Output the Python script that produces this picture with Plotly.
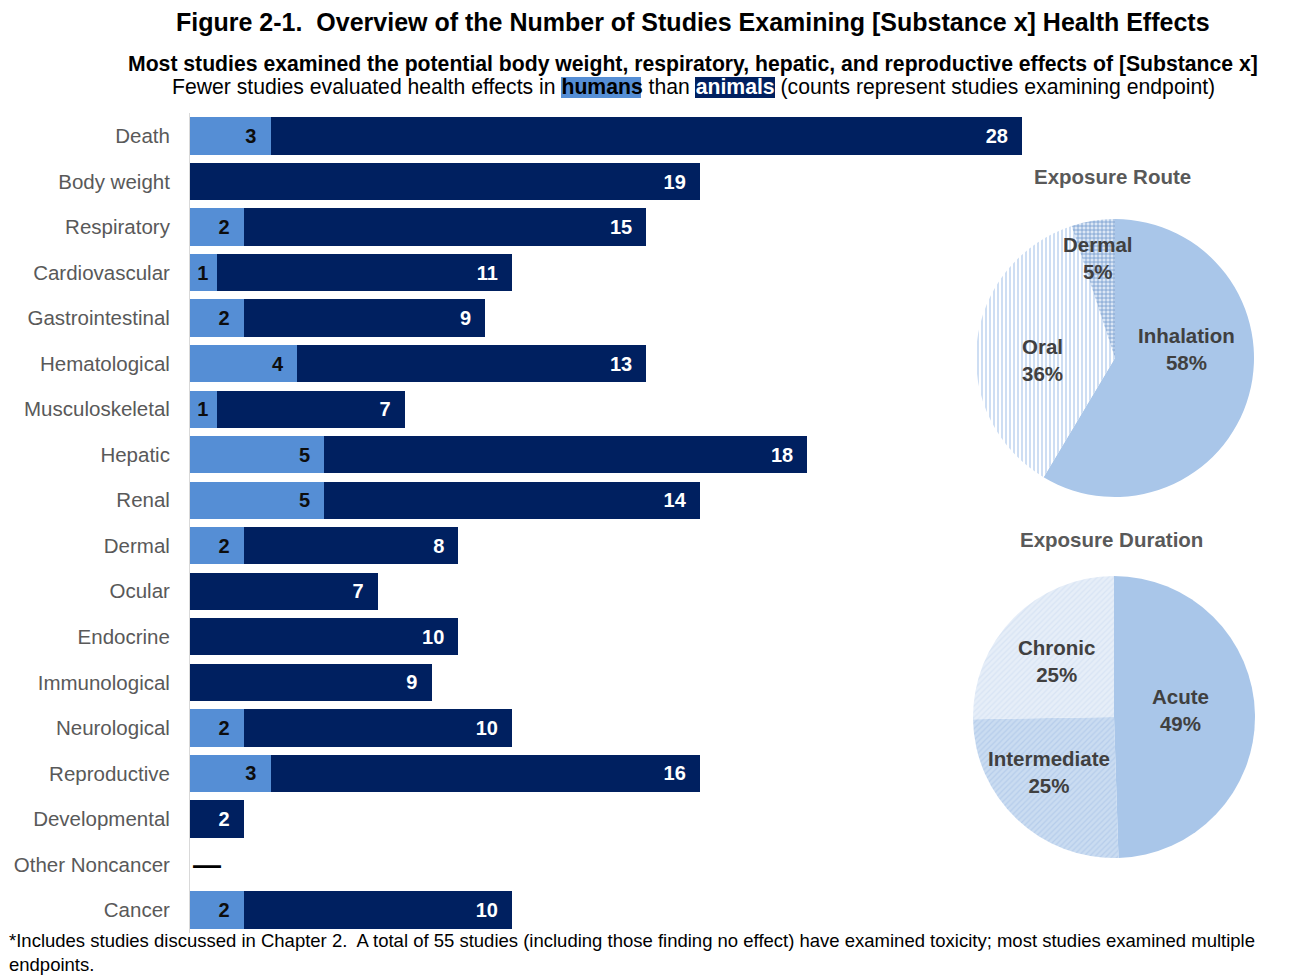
import plotly.graph_objects as go

# ---- data ----
endpoints = ["Death", "Body weight", "Respiratory", "Cardiovascular", "Gastrointestinal",
             "Hematological", "Musculoskeletal", "Hepatic", "Renal", "Dermal", "Ocular",
             "Endocrine", "Immunological", "Neurological", "Reproductive", "Developmental",
             "Other Noncancer", "Cancer"]
human_counts = [3, 0, 2, 1, 2, 4, 1, 5, 5, 2, 0, 0, 0, 2, 3, 0, 0, 2]
animal_counts = [28, 19, 15, 11, 9, 13, 7, 18, 14, 8, 7, 10, 9, 10, 16, 2, 0, 10]

route_labels = ["Inhalation", "Oral", "Dermal"]
route_pct = [58, 36, 5]

duration_labels = ["Acute", "Intermediate", "Chronic"]
duration_pct = [49, 25, 25]

total_studies = 55

# ---- style ----
W, H = 1297, 975
HUMAN = "#558ED5"
ANIMAL = "#002060"
FONT = "Liberation Sans, Arial, sans-serif"
NBSP = "\u00a0"


def px(x):
    return x / W


def py(y):
    return 1 - y / H


def bar_text(vals):
    # right-aligned count inside each segment, padded a little from the end
    return [f"<b>{v}</b>" + NBSP * (2 if v > 1 else 1) if v > 0 else "" for v in vals]


fig = go.Figure()

fig.add_trace(go.Bar(
    y=endpoints, x=human_counts, orientation="h", name="Humans",
    marker=dict(color=HUMAN, line=dict(width=0)),
    text=bar_text(human_counts), textposition="inside", insidetextanchor="end",
    textfont=dict(family=FONT, size=20, color="#0d0d0d"),
    cliponaxis=False, hoverinfo="x+y",
))
fig.add_trace(go.Bar(
    y=endpoints, x=animal_counts, orientation="h", name="Animals",
    marker=dict(color=ANIMAL, line=dict(width=0)),
    text=bar_text(animal_counts), textposition="inside", insidetextanchor="end",
    textfont=dict(family=FONT, size=20, color="white"),
    cliponaxis=False, hoverinfo="x+y",
))

# endpoints with no studies get a dash
annotations = []
for name, h, a in zip(endpoints, human_counts, animal_counts):
    if h + a == 0:
        annotations.append(dict(x=0, y=name, xref="x", yref="y", text="<b>—</b>",
                                showarrow=False, xanchor="left", yanchor="middle", xshift=1,
                                font=dict(family=FONT, size=28, color="black")))

# pies
pie_line = dict(color="rgba(0,0,0,0)", width=0)
fig.add_trace(go.Pie(
    labels=route_labels, values=route_pct, sort=False, direction="clockwise",
    domain=dict(x=[px(976), px(1254)], y=[py(497), py(219)]),
    marker=dict(colors=["#A9C6E9", "#FFFFFF", "#FFFFFF"], line=pie_line,
                pattern=dict(shape=["", "|", "+"],
                             fgcolor=["#A9C6E9", "#B9D0EE", "#6E98CC"],
                             bgcolor=["#A9C6E9", "#FFFFFF", "#DCE7F5"],
                             size=[6, 4, 4], solidity=[0.2, 0.35, 0.35])),
    textinfo="none", showlegend=False, hoverinfo="label+value",
))
fig.add_trace(go.Pie(
    labels=duration_labels, values=duration_pct, sort=False, direction="clockwise",
    domain=dict(x=[px(973), px(1255)], y=[py(858), py(576)]),
    marker=dict(colors=["#A9C6E9", "#C6D8EF", "#E2EBF7"], line=pie_line,
                pattern=dict(shape=["", "/", "/"],
                             fgcolor=["#A9C6E9", "#B6CDEB", "#D8E4F4"],
                             bgcolor=["#A9C6E9", "#CADCF1", "#E6EEF8"],
                             size=[6, 4, 4], solidity=[0.2, 0.3, 0.3])),
    textinfo="none", showlegend=False, hoverinfo="label+value",
))


def centered(x, y, text, font, xanchor="center"):
    return dict(x=px(x), y=py(y), xref="paper", yref="paper", text=text,
                showarrow=False, xanchor=xanchor, yanchor="middle", font=font)


# pie slice labels
label_font = dict(family=FONT, size=20.5, color="#404040")
route_pos = {"Inhalation": (1186, 349), "Oral": (1042, 360), "Dermal": (1098, 258)}
duration_pos = {"Acute": (1180, 710), "Intermediate": (1049, 772), "Chronic": (1056, 661)}
for lab, val in zip(route_labels, route_pct):
    x, y = route_pos[lab]
    annotations.append(centered(x, y, f"<b>{lab}<br>{val}%</b>", label_font))
for lab, val in zip(duration_labels, duration_pct):
    x, y = duration_pos[lab]
    annotations.append(centered(x, y, f"<b>{lab}<br>{val}%</b>", label_font))

# pie titles
for txt, (x, y) in [("Exposure Route", (1112, 176)), ("Exposure Duration", (1111, 539))]:
    annotations.append(centered(x, y, f"<b>{txt}</b>",
                                dict(family=FONT, size=20.5, color="#595959")))

# titles
annotations.append(centered(
    693, 22,
    "<b>Figure 2-1.  Overview of the Number of Studies Examining [Substance x] Health Effects</b>",
    dict(family=FONT, size=25, color="black")))
annotations.append(centered(
    693, 64,
    "<b>Most studies examined the potential body weight, respiratory, hepatic, "
    "and reproductive effects of [Substance x]</b>",
    dict(family=FONT, size=21.2, color="black")))
annotations.append(centered(
    693, 87,
    "Fewer studies evaluated health effects in <b>humans</b> than "
    "<b><span style='color:white'>animals</span></b> "
    "(counts represent studies examining endpoint)",
    dict(family=FONT, size=21.2, color="black")))

# footnote
annotations.append(dict(
    x=px(8), y=py(976), xref="paper", yref="paper", showarrow=False,
    xanchor="left", yanchor="bottom", align="left", borderpad=0,
    text=f"*Includes studies discussed in Chapter 2.  A total of {total_studies} studies "
         "(including those finding no effect) have examined toxicity; most studies examined multiple"
         "<br>endpoints.",
    font=dict(family=FONT, size=18.5, color="black")))

shapes = [
    dict(type="rect", xref="paper", yref="paper", x0=px(561), x1=px(641),
         y0=py(98), y1=py(77), fillcolor=HUMAN, line=dict(width=0), layer="above"),
    dict(type="rect", xref="paper", yref="paper", x0=px(695), x1=px(775),
         y0=py(98), y1=py(77), fillcolor=ANIMAL, line=dict(width=0), layer="above"),
]

fig.update_layout(
    width=W, height=H, barmode="stack", bargap=0.18,
    margin=dict(l=0, r=0, t=0, b=0), paper_bgcolor="white", plot_bgcolor="white",
    showlegend=False, annotations=annotations, shapes=shapes,
    xaxis=dict(domain=[px(190), px(1022)], range=[0, 31], visible=False, fixedrange=True),
    yaxis=dict(domain=[py(932.75), py(113.25)], autorange="reversed",
               showline=True, linecolor="#D9D9D9", linewidth=1, ticks="",
               ticklabelstandoff=15, showgrid=False,
               tickfont=dict(family=FONT, size=20.5, color="#595959")),
)

fig.write_html("out.html")
